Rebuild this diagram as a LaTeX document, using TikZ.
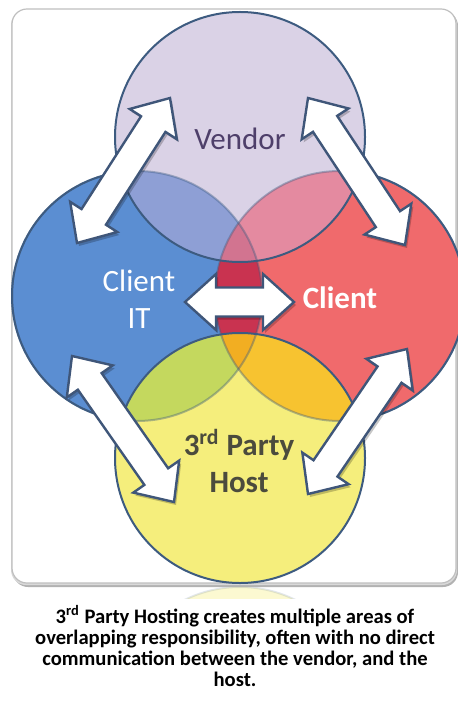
\documentclass[tikz,border=0pt]{standalone}
\usepackage{fontspec}
\setmainfont{Carlito}
\usetikzlibrary{calc}

\definecolor{cVendor}{HTML}{DAD2E6}
\definecolor{cBlue}{HTML}{5B8ED2}
\definecolor{cRed}{HTML}{F06A6C}
\definecolor{cYellow}{HTML}{F5EE7C}
\definecolor{cVB}{HTML}{8E9FD5}
\definecolor{cVR}{HTML}{E48AA0}
\definecolor{cVBR}{HTML}{D27490}
\definecolor{cBR}{HTML}{C93350}
\definecolor{cYB}{HTML}{C4D85E}
\definecolor{cYR}{HTML}{F7C330}
\definecolor{cYBR}{HTML}{F2AE22}
\definecolor{cRing}{HTML}{3D5B80}
\definecolor{cArrowLine}{HTML}{3F5679}
\definecolor{cVtext}{HTML}{4E3F6A}
\definecolor{cHost}{HTML}{4B4B3D}

% circle radius and arrow geometry
\def\R{62.5pt}
\def\ahl{15.5pt}   % head length
\def\ahw{14pt}     % head half width
\def\asw{7.25pt}   % shaft half width

\tikzset{
  ring/.style={draw=cRing, line width=1pt},
  twowayarrow/.style={fill=white, draw=cArrowLine, line width=1.2pt, line join=miter,
    preaction={fill=black, fill opacity=0.22, draw=none,
      transform canvas={shift={(1pt,-1.5pt)}}}},
  lab/.style={inner sep=0pt, font=\fontsize{15.5}{18.5}\selectfont},
}

% white double-headed block arrow between two named points
\newcommand\twoway[2]{%
  \coordinate (#1-h) at ($(#1)!\ahl!(#2)$);
  \coordinate (#2-h) at ($(#2)!\ahl!(#1)$);
  \path[twowayarrow] (#1)
    -- ($(#1-h)!\ahw!90:(#2)$)
    -- ($(#1-h)!\asw!90:(#2)$)
    -- ($(#2-h)!\asw!-90:(#1)$)
    -- ($(#2-h)!\ahw!-90:(#1)$)
    -- (#2)
    -- ($(#2-h)!\ahw!90:(#1)$)
    -- ($(#2-h)!\asw!90:(#1)$)
    -- ($(#1-h)!\asw!-90:(#2)$)
    -- ($(#1-h)!\ahw!-90:(#2)$)
    -- cycle;}

\begin{document}
\begin{tikzpicture}[x=0.5pt,y=-0.5pt]
\useasboundingbox (0,0) rectangle (458,705);

% panel with soft shadow
\fill[black!30, rounded corners=7.5pt] (13,11) rectangle (458,587);
\fill[black!15, rounded corners=7.5pt] (11,10) rectangle (457,585);
\draw[fill=white, draw=black!25, line width=0.6pt, rounded corners=7.5pt] (12,9) rectangle (456,583);

% circle centres
\coordinate (cV) at (240,137);
\coordinate (cB) at (137,296);
\coordinate (cR) at (340,296);
\coordinate (cY) at (240,458);

% reflection under the panel
\begin{scope}
  \clip (150,587) rectangle (330,598);
  \fill[cYellow, opacity=0.35] (240,712) circle[radius=\R];
  \draw[cRing, opacity=0.15, line width=1pt] (240,712) circle[radius=\R];
\end{scope}

% base fills and overlaps
\fill[cBlue] (cB) circle[radius=\R];
\fill[cRed] (cR) circle[radius=\R];
\begin{scope}
  \clip (cB) circle[radius=\R];
  \fill[cBR] (cR) circle[radius=\R];
\end{scope}
\fill[cVendor] (cV) circle[radius=\R];
\begin{scope}
  \clip (cV) circle[radius=\R];
  \fill[cVB] (cB) circle[radius=\R];
  \fill[cVR] (cR) circle[radius=\R];
  \clip (cB) circle[radius=\R];
  \fill[cVBR] (cR) circle[radius=\R];
\end{scope}
\fill[cYellow] (cY) circle[radius=\R];
\begin{scope}
  \clip (cY) circle[radius=\R];
  \fill[cYB] (cB) circle[radius=\R];
  \fill[cYR] (cR) circle[radius=\R];
  \clip (cB) circle[radius=\R];
  \fill[cYBR] (cR) circle[radius=\R];
\end{scope}

% outlines: soft inner arcs, dark outer arcs
\draw[ring, draw opacity=0.4] (cB) circle[radius=\R];
\draw[ring, draw opacity=0.4] (cR) circle[radius=\R];
\begin{scope}[even odd rule]
  \clip (-50,-50) rectangle (550,750) (cV) circle[radius=\R];
  \clip (-50,-50) rectangle (550,750) (cY) circle[radius=\R];
  \begin{scope}
    \clip (-50,-50) rectangle (550,750) (cR) circle[radius=\R];
    \draw[ring] (cB) circle[radius=\R];
  \end{scope}
  \begin{scope}
    \clip (-50,-50) rectangle (550,750) (cB) circle[radius=\R];
    \draw[ring] (cR) circle[radius=\R];
  \end{scope}
\end{scope}
\draw[ring] (cV) circle[radius=\R];
\draw[ring] (cY) circle[radius=\R];

% arrow end points
\coordinate (a1) at (170,98);  \coordinate (a2) at (77,243);
\coordinate (b1) at (308,98);  \coordinate (b2) at (405,245);
\coordinate (c1) at (72,356);  \coordinate (c2) at (174,502);
\coordinate (d1) at (407,349); \coordinate (d2) at (308,494);
\coordinate (e1) at (185,302); \coordinate (e2) at (294,302);

\twoway{a1}{a2}
\twoway{b1}{b2}
\twoway{c1}{c2}
\twoway{d1}{d2}
\twoway{e1}{e2}

% labels
\node[lab, text=cVtext] (vendor) at (240,139) {Vendor};
\node[lab, text=white, align=center] (clientit) at (139,299) {Client\\IT};
\node[lab, text=white, font=\fontsize{15.5}{18.5}\selectfont\bfseries] (client) at (340,298) {Client};
\node[lab, text=cHost, align=center, font=\fontsize{15.5}{18.5}\selectfont\bfseries] (host) at (239,461) {3\textsuperscript{rd} Party\\Host};

% caption
\node[inner sep=0pt, align=center, font=\fontsize{10.3}{10.5}\selectfont\bfseries] (caption) at (235,646)
  {3\textsuperscript{rd} Party Hosting creates multiple areas of\\
   overlapping responsibility, often with no direct\\
   communication between the vendor, and the\\
   host.};
\end{tikzpicture}
\end{document}
